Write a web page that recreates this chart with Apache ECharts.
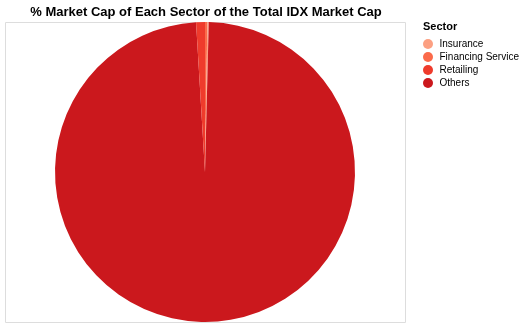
<!DOCTYPE html>
<html>
<head>
<meta charset="utf-8">
<script src="https://cdn.jsdelivr.net/npm/echarts@6/dist/echarts.min.js"></script>
<style>
  html, body { margin: 0; padding: 0; background: #fff; }
  #chart { width: 524px; height: 327px; }
</style>
</head>
<body>
<div id="chart"></div>
<script>
// sectors in stacking order (clockwise from 12 o'clock)
var sectors = ['Financing Service', 'Insurance', 'Others', 'Retailing'];
var sharePct = [0.25, 0.15, 98.65, 0.95];
var sectorColors = ['#fb6a4a', '#fca082', '#cb181d', '#ef3b2c'];
// legend order as shown
var legendOrder = ['Insurance', 'Financing Service', 'Retailing', 'Others'];

var myChart = echarts.init(document.getElementById('chart'));

var pieData = sectors.map(function (name, i) {
    return { name: name, value: sharePct[i], itemStyle: { color: sectorColors[i] } };
});

var option = {
    animation: false,
    title: {
        text: '% Market Cap of Each Sector of the Total IDX Market Cap',
        left: 201,
        textAlign: 'center',
        top: 1,
        textStyle: { fontFamily: 'Liberation Sans', fontSize: 13, fontWeight: 'bold', color: '#000' }
    },
    legend: {
        orient: 'vertical',
        left: 423,
        top: 39,
        padding: 0,
        data: legendOrder,
        icon: 'circle',
        itemWidth: 11,
        itemHeight: 10,
        itemGap: 3,
        textStyle: { fontFamily: 'Liberation Sans', fontSize: 10, lineHeight: 10, color: '#000', padding: [0, 0, 0, 1] }
    },
    graphic: [
        {
            type: 'rect',
            shape: { x: 5.5, y: 22.5, width: 400, height: 300 },
            style: { fill: 'none', stroke: '#ddd', lineWidth: 1 },
            z: -1
        },
        {
            type: 'text',
            left: 423,
            top: 21,
            style: { text: 'Sector', font: 'bold 11px "Liberation Sans"', fill: '#000' }
        }
    ],
    series: [
        {
            type: 'pie',
            center: [205, 172],
            radius: [0, 150],
            startAngle: 90,
            clockwise: true,
            label: { show: false },
            labelLine: { show: false },
            itemStyle: { borderWidth: 0 },
            emphasis: { disabled: true },
            data: pieData
        }
    ]
};

option && myChart.setOption(option);
</script>
</body>
</html>
